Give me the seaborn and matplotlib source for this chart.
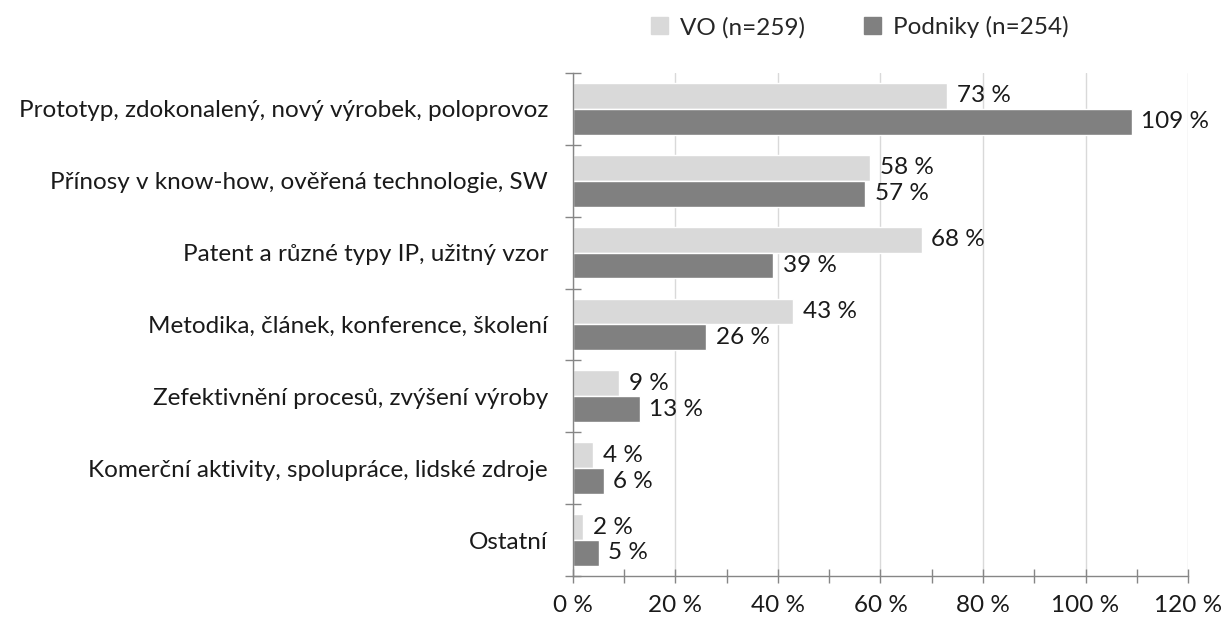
import pandas as pd
import matplotlib.pyplot as plt
import matplotlib.ticker as mticker
import seaborn as sns

# Data
categories = [
    'Prototyp, zdokonalený, nový výrobek, poloprovoz',
    'Přínosy v know-how, ověřená technologie, SW',
    'Patent a různé typy IP, užitný vzor',
    'Metodika, článek, konference, školení',
    'Zefektivnění procesů, zvýšení výroby',
    'Komerční aktivity, spolupráce, lidské zdroje',
    'Ostatní',
]
vo_values = [73, 58, 68, 43, 9, 4, 2]
podniky_values = [109, 57, 39, 26, 13, 6, 5]
series_names = ['VO (n=259)', 'Podniky (n=254)']
x_ticks = [0, 20, 40, 60, 80, 100, 120]

df = pd.DataFrame({
    'Kategorie': categories * 2,
    'Hodnota': vo_values + podniky_values,
    'Skupina': [series_names[0]] * len(categories) + [series_names[1]] * len(categories),
})

sns.set_style('white')
plt.rcParams['font.family'] = ['Lato', 'DejaVu Sans']
fs = 17.5

fig = plt.figure(figsize=(12.23, 6.29), dpi=100)
ax = fig.add_axes([0.4685, 0.0843, 0.5029, 0.7997])

sns.barplot(data=df, x='Hodnota', y='Kategorie', hue='Skupina', orient='h',
            palette=['#d9d9d9', '#808080'], width=0.72, saturation=1,
            ax=ax, legend=False)

for cont in ax.containers:
    ax.bar_label(cont, fmt='{:.0f} %', padding=7, fontsize=fs, color='#1a1a1a')

ax.set_xlim(0, 120)
ax.set_ylim(6.5, -0.5)
ax.set_xticks(x_ticks)
ax.xaxis.set_minor_locator(mticker.MultipleLocator(10))
ax.set_xticklabels([f'{t} %' for t in x_ticks], fontsize=fs, color='#1a1a1a')
ax.set_yticks(range(len(categories)))
ax.set_yticklabels(categories, fontsize=fs, color='#1a1a1a')
ax.set_yticks([i - 0.5 for i in range(len(categories) + 1)], minor=True)
ax.set_xlabel('')
ax.set_ylabel('')

ax.grid(axis='x', which='major', color='#d9d9d9', linewidth=1)
ax.set_axisbelow(True)
for s in ['top', 'right']:
    ax.spines[s].set_visible(False)
for s in ['left', 'bottom']:
    ax.spines[s].set_color('#868686')
    ax.spines[s].set_linewidth(1)

ax.tick_params(axis='x', which='both', bottom=True, direction='inout',
               length=10, width=1, color='#868686', pad=9)
ax.tick_params(axis='y', which='major', left=True, length=0, pad=18)
ax.tick_params(axis='y', which='minor', left=True, direction='inout',
               length=12, width=1, color='#868686')

handles = [plt.Rectangle((0, 0), 1, 1, color=c) for c in ['#d9d9d9', '#808080']]
fig.legend(handles, series_names, loc='center', bbox_to_anchor=(0.703, 0.957),
           ncol=2, frameon=False, fontsize=fs, handlelength=0.7, handleheight=0.7,
           handletextpad=0.5, columnspacing=2.4)

fig.savefig('out.png', dpi=100)
